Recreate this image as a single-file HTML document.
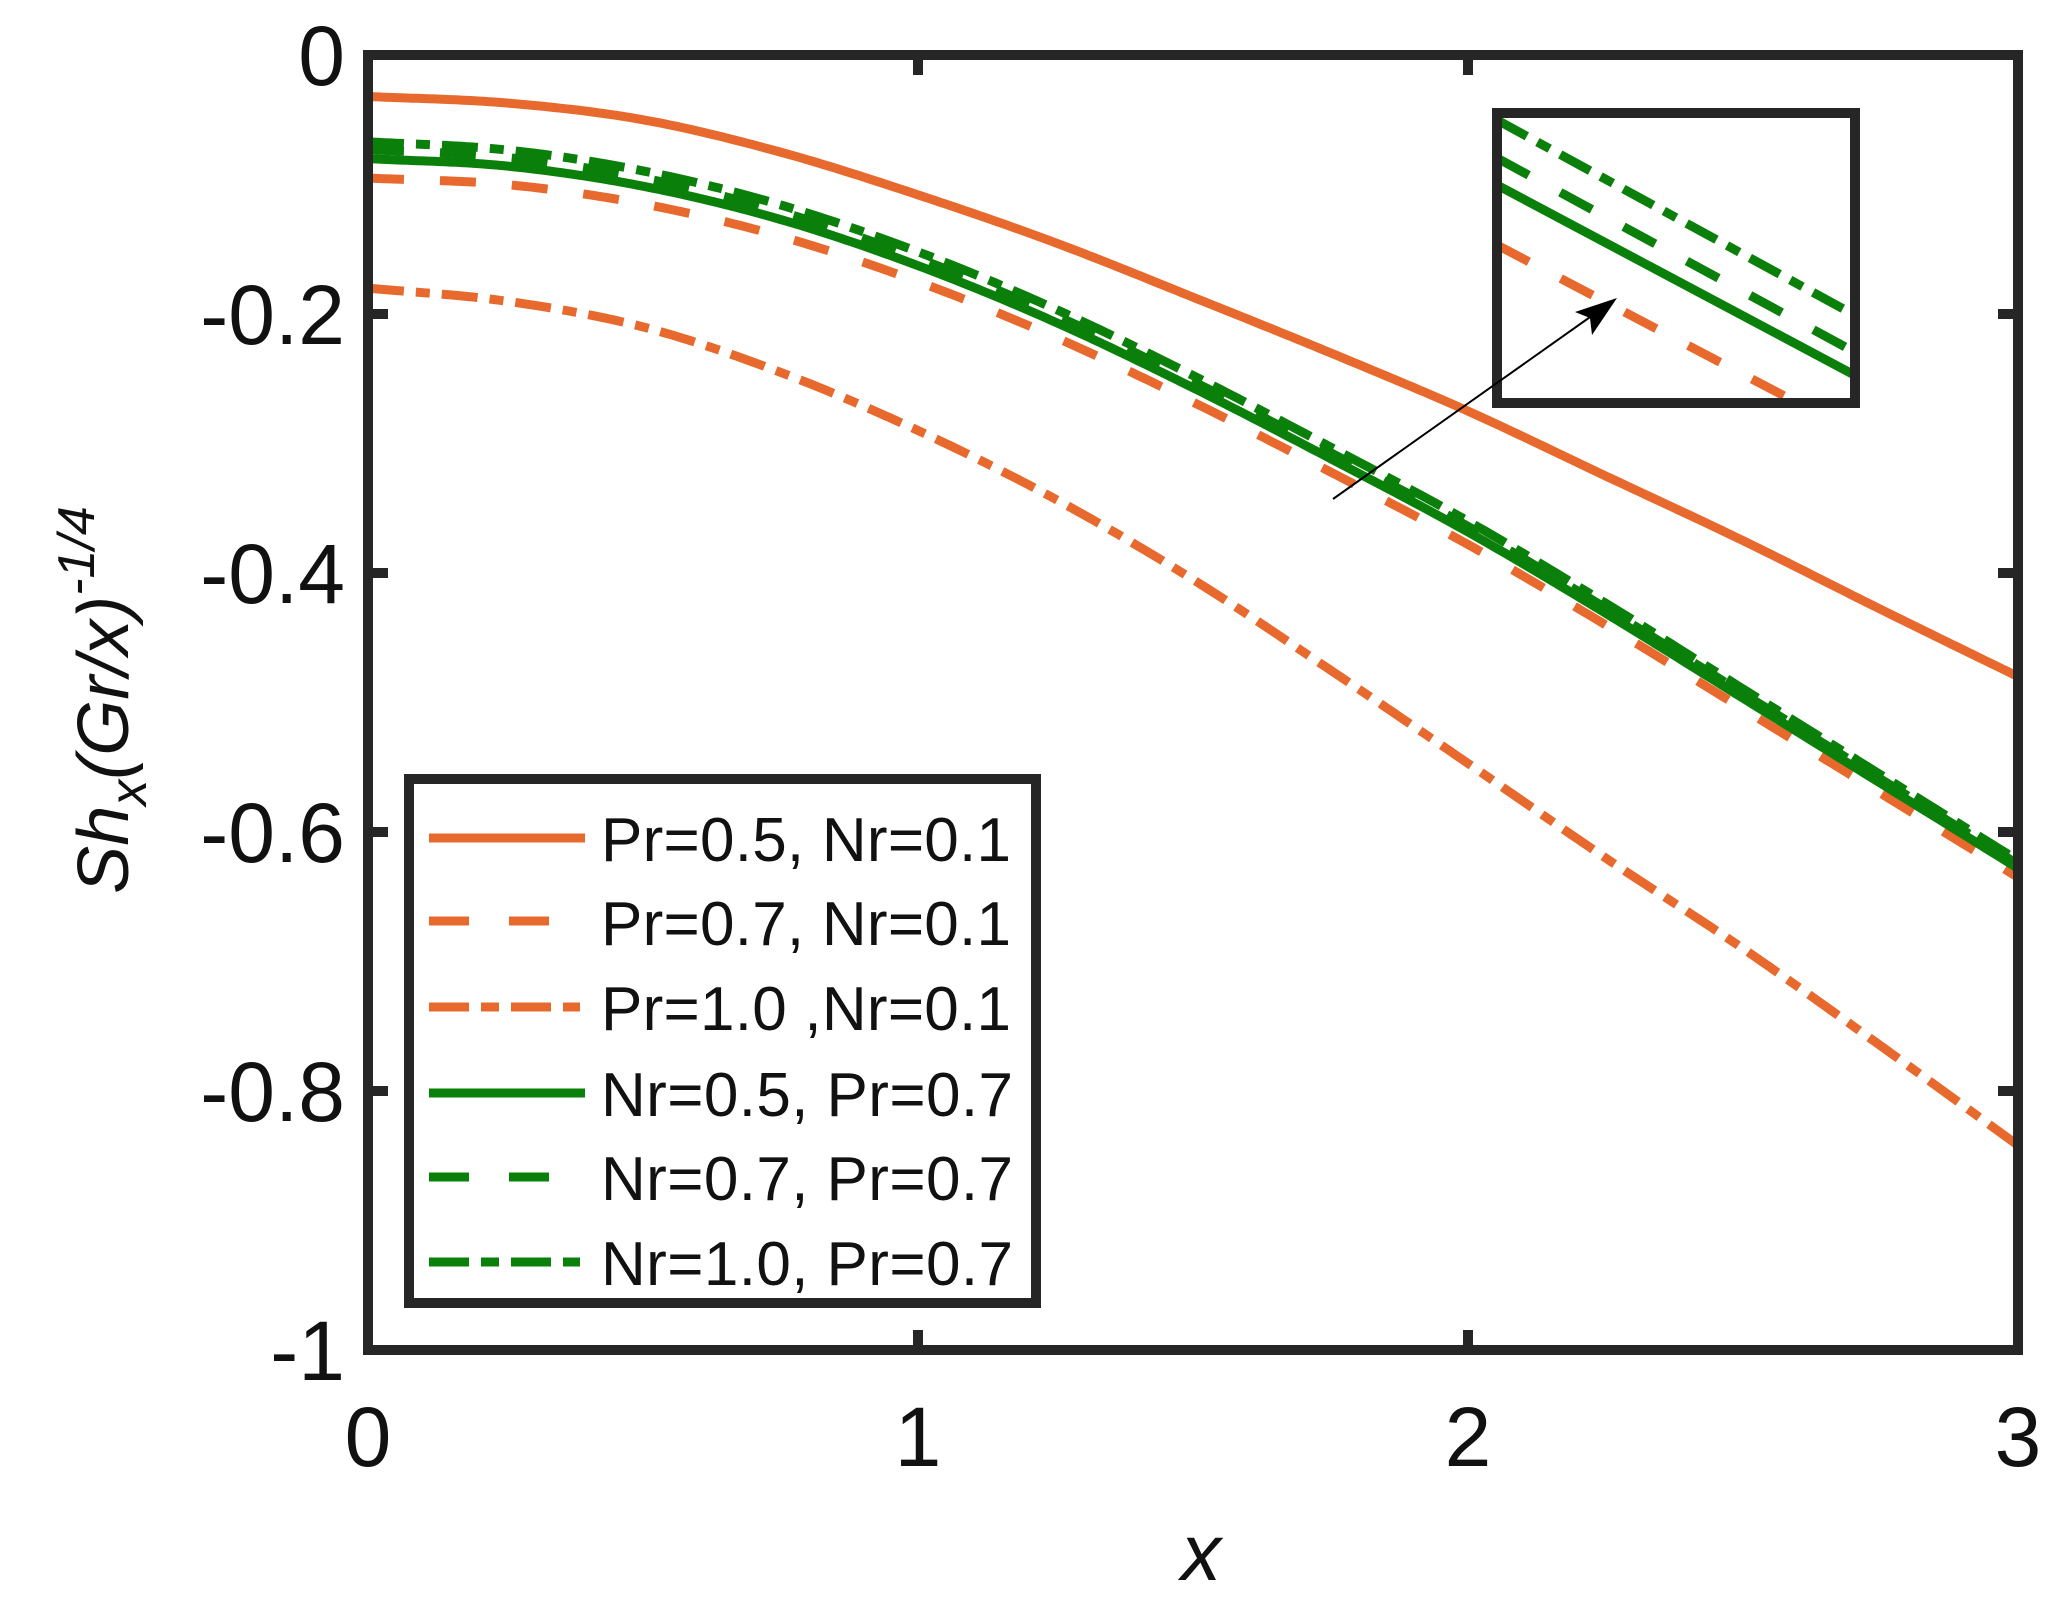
<!DOCTYPE html>
<html><head><meta charset="utf-8"><style>
html,body{margin:0;padding:0;background:#fff;}
svg{display:block;}
text{font-family:"Liberation Sans",Arial,sans-serif;fill:#111;}
</style></head><body>
<svg id="s" width="2059" height="1600" viewBox="0 0 2059 1600" xmlns="http://www.w3.org/2000/svg">
<defs>
<clipPath id="ax"><rect x="368" y="55" width="1650" height="1295"/></clipPath>
<clipPath id="ins"><rect x="1497" y="113" width="358" height="290"/></clipPath>
</defs>
<g id="curves" clip-path="url(#ax)"></g>
<rect x="368" y="55" width="1650" height="1295" fill="none" stroke="#262626" stroke-width="10"/>
<g stroke="#262626" stroke-width="10">
<line x1="918" y1="55" x2="918" y2="75"/><line x1="1468" y1="55" x2="1468" y2="75"/>
<line x1="918" y1="1350" x2="918" y2="1330"/><line x1="1468" y1="1350" x2="1468" y2="1330"/>
<line x1="368" y1="314" x2="388" y2="314"/><line x1="368" y1="573" x2="388" y2="573"/><line x1="368" y1="832" x2="388" y2="832"/><line x1="368" y1="1091" x2="388" y2="1091"/>
<line x1="2018" y1="314" x2="1998" y2="314"/><line x1="2018" y1="573" x2="1998" y2="573"/><line x1="2018" y1="832" x2="1998" y2="832"/><line x1="2018" y1="1091" x2="1998" y2="1091"/>
</g>
<g font-size="84" text-anchor="end">
<text x="345" y="85">0</text>
<text x="345" y="344">-0.2</text>
<text x="345" y="603">-0.4</text>
<text x="345" y="862">-0.6</text>
<text x="345" y="1121">-0.8</text>
<text x="345" y="1380">-1</text>
</g>
<g font-size="84" text-anchor="middle">
<text x="368" y="1466">0</text>
<text x="918" y="1466">1</text>
<text x="1468" y="1466">2</text>
<text x="2018" y="1466">3</text>
</g>
<text x="1201" y="1580" font-size="80" font-style="italic" text-anchor="middle">x</text>
<text transform="translate(128,700) rotate(-90)" font-size="72" font-style="italic" text-anchor="middle">Sh<tspan font-size="52" dy="18">x</tspan><tspan dy="-18">(Gr/x)</tspan><tspan font-size="52" dy="-34">-1/4</tspan></text>
<rect x="1497" y="113" width="358" height="290" fill="#fff"/>
<g clip-path="url(#ins)" stroke-width="9" fill="none">
<line x1="1497" y1="120" x2="1860" y2="318" stroke="#0A7F0A" stroke-dasharray="34 12 14 12"/>
<line x1="1497" y1="158" x2="1860" y2="355" stroke="#0A7F0A" stroke-dasharray="36 36"/>
<line x1="1497" y1="185" x2="1860" y2="378" stroke="#0A7F0A"/>
<line x1="1497" y1="245" x2="1830" y2="420" stroke="#E8692D" stroke-dasharray="36 36"/>
</g>
<rect x="1497" y="113" width="358" height="290" fill="none" stroke="#262626" stroke-width="10"/>
<line x1="1333" y1="499" x2="1600" y2="310" stroke="#000" stroke-width="2"/>
<polygon points="1617,298 1575,312 1590,318 1592,335" fill="#000"/>
<rect x="409" y="779" width="627" height="524" fill="#fff" stroke="#262626" stroke-width="10"/>
<g stroke-width="9" fill="none">
<line x1="429" y1="838" x2="585" y2="838" stroke="#E8692D"/>
<line x1="429" y1="921" x2="585" y2="921" stroke="#E8692D" stroke-dasharray="40 40"/>
<line x1="429" y1="1007" x2="580" y2="1007" stroke="#E8692D" stroke-dasharray="40 12 18 12"/>
<line x1="429" y1="1093" x2="585" y2="1093" stroke="#0A7F0A"/>
<line x1="429" y1="1177" x2="585" y2="1177" stroke="#0A7F0A" stroke-dasharray="40 40"/>
<line x1="429" y1="1262" x2="580" y2="1262" stroke="#0A7F0A" stroke-dasharray="40 12 18 12"/>
</g>
<g font-size="62">
<text x="601" y="861" textLength="410">Pr=0.5, Nr=0.1</text>
<text x="601" y="945" textLength="410">Pr=0.7, Nr=0.1</text>
<text x="601" y="1030" textLength="410">Pr=1.0 ,Nr=0.1</text>
<text x="601" y="1116" textLength="412">Nr=0.5, Pr=0.7</text>
<text x="601" y="1200" textLength="412">Nr=0.7, Pr=0.7</text>
<text x="601" y="1285" textLength="412">Nr=1.0, Pr=0.7</text>
</g>
</svg>
<script>
(function(){
var h=0.25;
var od=[-0.095,-0.10,-0.115,-0.14,-0.175,-0.218,-0.268,-0.322,-0.378,-0.44,-0.505,-0.57,-0.635];
function off(a,b){return od.map(function(v,i){var t=i/12;return v+a+(b-a)*t;});}
var S=[
 {v:[-0.032,-0.037,-0.05,-0.075,-0.108,-0.145,-0.187,-0.23,-0.275,-0.325,-0.375,-0.428,-0.48],c:"#E8692D",d:""},
 {v:od,c:"#E8692D",d:"36 36"},
 {v:[-0.18,-0.19,-0.21,-0.245,-0.29,-0.343,-0.405,-0.475,-0.547,-0.62,-0.69,-0.765,-0.842],c:"#E8692D",d:"36 12 14 12"},
 {v:off(0.015,0.007),c:"#0A7F0A",d:""},
 {v:off(0.022,0.010),c:"#0A7F0A",d:"36 36"},
 {v:off(0.028,0.013),c:"#0A7F0A",d:"36 12 14 12"}
];
function interp(v,x){
 var n=v.length,i=Math.min(Math.floor(x/h),n-2),t=(x-i*h)/h;
 var p1=v[i],p2=v[i+1];
 var p0=i>0?v[i-1]:2*p1-p2, p3=i+2<n?v[i+2]:2*p2-p1;
 var t2=t*t,t3=t2*t;
 return 0.5*((2*p1)+(-p0+p2)*t+(2*p0-5*p1+4*p2-p3)*t2+(-p0+3*p1-3*p2+p3)*t3);
}
var g=document.getElementById("curves"),NS="http://www.w3.org/2000/svg";
S.forEach(function(s){
 var d="";
 for(var k=0;k<=300;k++){var x=k*0.01;var y=interp(s.v,x);
  d+=(k?"L":"M")+(368+550*x).toFixed(1)+","+(55-y*1295).toFixed(1);}
 var p=document.createElementNS(NS,"path");
 p.setAttribute("d",d);p.setAttribute("fill","none");p.setAttribute("stroke",s.c);
 p.setAttribute("stroke-width","9");if(s.d)p.setAttribute("stroke-dasharray",s.d);
 g.appendChild(p);
});
})();
</script>
</body></html>
